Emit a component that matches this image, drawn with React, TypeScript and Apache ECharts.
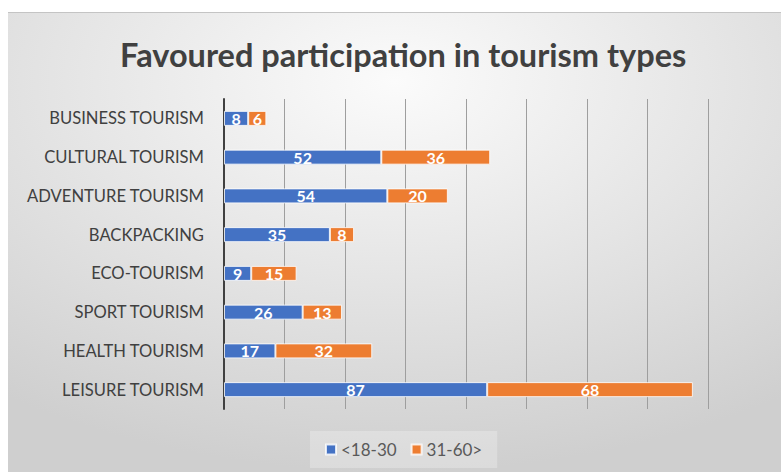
import React, { useEffect, useRef } from "react";
import * as echarts from "echarts";

const categories = [
  "BUSINESS TOURISM",
  "CULTURAL TOURISM",
  "ADVENTURE TOURISM",
  "BACKPACKING",
  "ECO-TOURISM",
  "SPORT TOURISM",
  "HEALTH TOURISM",
  "LEISURE TOURISM",
];
const youngValues = [8, 52, 54, 35, 9, 26, 17, 87];
const olderValues = [6, 36, 20, 8, 15, 13, 32, 68];
const seriesNames = ["<18-30", "31-60>"];
const titleText = "Favoured participation in tourism types";

const FONT = "Lato, 'Open Sans', sans-serif";

export default function App() {
  const ref = useRef<HTMLDivElement>(null);
  useEffect(() => {
    if (!ref.current) return;
    const chart = echarts.init(ref.current, undefined, { renderer: "svg" });
    const labelStyle = {
      show: true,
      position: "inside",
      color: "#ffffff",
      fontWeight: "bold",
      fontSize: 16,
      fontFamily: FONT,
    };
    chart.setOption({
      animation: false,
      backgroundColor: {
        type: "radial",
        x: 0.5,
        y: 0.15,
        r: 0.85,
        colorStops: [
          { offset: 0, color: "#fbfbfb" },
          { offset: 1, color: "#cfcfcf" },
        ],
      },
      title: {
        text: titleText,
        left: 107,
        top: 21,
        textStyle: {
          fontFamily: FONT,
          fontWeight: "bold",
          fontSize: 32.5,
          color: "#404040",
        },
      },
      legend: {
        bottom: 4,
        left: 302,
        itemWidth: 10,
        itemHeight: 10,
        itemGap: 14,
        padding: [10, 15],
        backgroundColor: "rgba(255,255,255,0.25)",
        icon: "rect",
        textStyle: { fontFamily: FONT, fontSize: 17, color: "#595959" },
        data: seriesNames,
      },
      grid: { left: 216, right: 73, top: 87, bottom: 63 },
      xAxis: {
        type: "value",
        min: 0,
        max: 160,
        interval: 20,
        axisLabel: { show: false },
        axisLine: { show: false },
        axisTick: { show: false },
        splitLine: { show: true, lineStyle: { color: "#9e9e9e", width: 1 } },
      },
      yAxis: {
        type: "category",
        inverse: true,
        data: categories,
        axisTick: { show: false },
        axisLine: { show: true, lineStyle: { color: "#404040", width: 2 } },
        axisLabel: {
          margin: 20,
          fontFamily: FONT,
          fontSize: 16.6,
          color: "#404040",
        },
      },
      graphic: [
        {
          type: "line",
          shape: { x1: 0, y1: 0.5, x2: 773, y2: 0.5 },
          style: { stroke: "#c4c4c4", lineWidth: 1 },
        },
      ],
      series: [
        {
          name: seriesNames[0],
          type: "bar",
          stack: "total",
          barWidth: 15,
          data: youngValues,
          itemStyle: { color: "#4472C4", borderColor: "rgba(255,255,255,0.8)", borderWidth: 1 },
          label: labelStyle,
        },
        {
          name: seriesNames[1],
          type: "bar",
          stack: "total",
          barWidth: 15,
          data: olderValues,
          itemStyle: { color: "#ED7D31", borderColor: "rgba(255,255,255,0.8)", borderWidth: 1 },
          label: labelStyle,
        },
      ],
    });
    return () => chart.dispose();
  }, []);
  return (
    <div
      ref={ref}
      style={{ position: "absolute", left: 8, top: 12, width: 773, height: 460 }}
    />
  );
}
